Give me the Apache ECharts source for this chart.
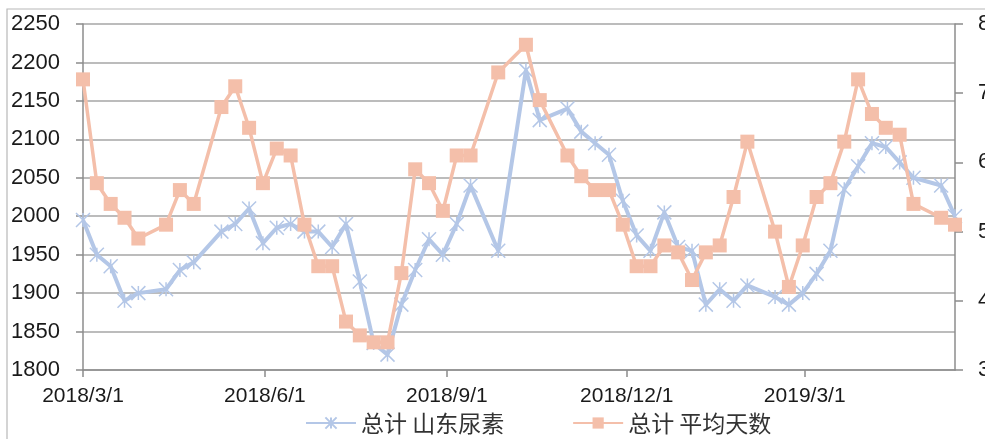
<!DOCTYPE html>
<html>
<head>
<meta charset="utf-8">
<script src="https://cdn.jsdelivr.net/npm/echarts@6/dist/echarts.min.js"></script>
<style>
html,body{margin:0;padding:0;background:#fff;}
#chart{width:985px;height:439px;}
</style>
</head>
<body>
<div id="chart"></div>
<script>
// Weekly dates (Thursdays)
var dates = [
 '2018-03-01','2018-03-08','2018-03-15','2018-03-22','2018-03-29','2018-04-12','2018-04-19','2018-04-26',
 '2018-05-10','2018-05-17','2018-05-24','2018-05-31','2018-06-07','2018-06-14','2018-06-21','2018-06-28',
 '2018-07-05','2018-07-12','2018-07-19','2018-07-26','2018-08-02','2018-08-09','2018-08-16','2018-08-23',
 '2018-08-30','2018-09-06','2018-09-13','2018-09-27','2018-10-11','2018-10-18','2018-11-01','2018-11-08',
 '2018-11-15','2018-11-22','2018-11-29','2018-12-06','2018-12-13','2018-12-20','2018-12-27','2019-01-03',
 '2019-01-10','2019-01-17','2019-01-24','2019-01-31','2019-02-14','2019-02-21','2019-02-28','2019-03-07',
 '2019-03-14','2019-03-21','2019-03-28','2019-04-04','2019-04-11','2019-04-18','2019-04-25','2019-05-09',
 '2019-05-16'
];
// 总计 山东尿素 (left axis)
var shandongUrea = [
 1995,1950,1935,1890,1900,1905,1930,1940,
 1980,1990,2010,1965,1985,1990,1980,1980,
 1960,1990,1915,1835,1820,1885,1930,1970,
 1950,1990,2040,1955,2190,2125,2140,2110,
 2095,2080,2020,1975,1955,2005,1960,1955,
 1885,1905,1890,1910,1895,1885,1900,1925,
 1955,2035,2065,2095,2090,2070,2050,2040,
 2000
];
// 总计 平均天数 (right axis)
var avgDays = [
 7.2,5.7,5.4,5.2,4.9,5.1,5.6,5.4,
 6.8,7.1,6.5,5.7,6.2,6.1,5.1,4.5,
 4.5,3.7,3.5,3.4,3.4,4.4,5.9,5.7,
 5.3,6.1,6.1,7.3,7.7,6.9,6.1,5.8,
 5.6,5.6,5.1,4.5,4.5,4.8,4.7,4.3,
 4.7,4.8,5.5,6.3,5.0,4.2,4.8,5.5,
 5.7,6.3,7.2,6.7,6.5,6.4,5.4,5.2,
 5.1
];
var xTickLabels = ['2018/3/1','2018/6/1','2018/9/1','2018/12/1','2019/3/1'];
var seriesNames = ['总计 山东尿素','总计 平均天数'];

function toTime(s){
  var p = s.split(/[-\/]/);
  return Date.UTC(+p[0], +p[1]-1, +p[2]);
}
var tickTimes = xTickLabels.map(toTime);
var dateTimes = dates.map(toTime);

var chart = echarts.init(document.getElementById('chart'));
var axisGray = '#8c8c8c';
var fontNum = 'Liberation Sans, Arial, sans-serif';

var blueData = dateTimes.map(function(t,i){ return [t, shandongUrea[i]]; });
var orangeData = dateTimes.map(function(t,i){ return [t, avgDays[i]]; });

chart.setOption({
  animation: false,
  backgroundColor: '#fff',
  graphic: [{
    type: 'rect', silent: true,
    shape: {x: 7, y: 9, width: 1000, height: 500},
    style: {fill: 'none', stroke: '#b8b8b8', lineWidth: 1.2}
  }],
  grid: {left: 83, right: 30, top: 24, bottom: 69, outerBoundsMode: 'none', containLabel: false},
  legend: {
    left: 300, top: 404,
    itemWidth: 50, itemHeight: 14, itemGap: 68,
    textStyle: {fontSize: 23, color: '#333333', fontFamily: 'Noto Sans CJK SC, sans-serif', lineHeight: 28},
    data: seriesNames
  },
  xAxis: {
    type: 'value',
    min: dateTimes[0], max: dateTimes[dateTimes.length-1],
    axisLine: {onZero: false, lineStyle: {color: axisGray, width: 1.5}},
    axisTick: {show: true, length: 7, customValues: tickTimes, lineStyle: {color: axisGray, width: 1.5}},
    axisLabel: {
      customValues: tickTimes,
      margin: 16,
      fontSize: 21, color: '#1a1a1a', fontFamily: fontNum,
      formatter: function(v){
        var idx = tickTimes.indexOf(v);
        if (idx >= 0) return xTickLabels[idx];
        var d = new Date(v);
        return d.getUTCFullYear() + '/' + (d.getUTCMonth()+1) + '/' + d.getUTCDate();
      }
    },
    splitLine: {show: false}
  },
  yAxis: [{
    type: 'value', min: 1800, max: 2250, interval: 50,
    axisLine: {show: true, lineStyle: {color: axisGray, width: 1.5}},
    axisTick: {show: true, length: 7, lineStyle: {color: axisGray, width: 1.5}},
    axisLabel: {margin: 23, fontSize: 22, color: '#1a1a1a', fontFamily: fontNum,
      formatter: function(v){ return String(v); }},
    splitLine: {show: true, lineStyle: {color: '#a6a6a6', width: 1.5}}
  }, {
    type: 'value', min: 3, max: 8, interval: 1,
    position: 'right',
    axisLine: {show: true, lineStyle: {color: axisGray, width: 1.5}},
    axisTick: {show: true, length: 8, lineStyle: {color: axisGray, width: 1.5}},
    axisLabel: {margin: 23, fontSize: 22, color: '#1a1a1a', fontFamily: fontNum,
      formatter: function(v){ return String(v); }},
    splitLine: {show: false}
  }],
  series: [{
    name: seriesNames[0],
    type: 'line',
    yAxisIndex: 0,
    data: blueData,
    symbol: 'path://M5,0L5,10M0,0L10,10M10,0L0,10',
    symbolSize: 14,
    showAllSymbol: true,
    lineStyle: {color: '#B4C7E7', width: 4},
    itemStyle: {color: 'rgba(0,0,0,0)', borderColor: '#B4C7E7', borderWidth: 1.5},
    z: 2
  }, {
    name: seriesNames[1],
    type: 'line',
    yAxisIndex: 1,
    data: orangeData,
    symbol: 'rect',
    symbolSize: 14,
    showAllSymbol: true,
    lineStyle: {color: '#F4BFAA', width: 3.5},
    itemStyle: {color: '#F4BFAA', borderWidth: 0},
    z: 3
  }]
});
</script>
</body>
</html>
